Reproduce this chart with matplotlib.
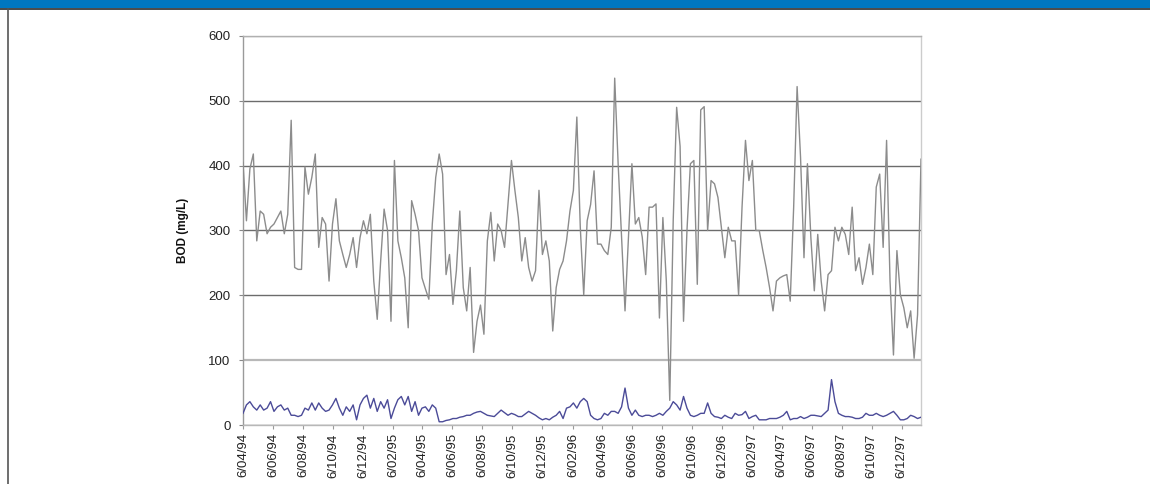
import matplotlib
matplotlib.use('Agg')
import matplotlib.pyplot as plt
import pandas as pd
from matplotlib.lines import Line2D
from matplotlib.patches import Rectangle

# ---------------- data (weekly samples) ----------------
start_date = '1994-04-06'

influent_bod = [
    405, 315, 395, 418, 284, 330, 325, 295, 305, 310,
    320, 330, 295, 325, 470, 243, 240, 240, 398, 356,
    382, 418, 274, 320, 310, 222, 310, 349, 284, 263,
    243, 263, 289, 243, 289, 315, 295, 325, 222, 163,
    253, 333, 300, 160, 408, 284, 258, 227, 150, 346,
    325, 300, 227, 210, 194, 310, 382, 418, 387, 232,
    263, 186, 238, 330, 212, 176, 243, 112, 160, 185,
    140, 284, 328, 253, 310, 300, 274, 341, 408, 362,
    320, 253, 289, 243, 222, 238, 362, 263, 284, 253,
    145, 212, 240, 253, 284, 330, 362, 475, 305, 201,
    315, 340, 392, 279, 279, 269, 263, 305, 535, 403,
    289, 176, 289, 403, 310, 320, 290, 232, 336, 336,
    341, 165, 320, 222, 38, 315, 490, 430, 160, 300,
    403, 408, 217, 486, 491, 300, 377, 372, 351, 305,
    258, 305, 284, 284, 201, 336, 439, 377, 408, 300,
    300, 270, 243, 212, 176, 222, 227, 230, 232, 191,
    336, 522, 413, 258, 403, 289, 207, 294, 222, 176,
    232, 238, 305, 284, 305, 294, 263, 336, 238, 258,
    217, 243, 279, 232, 367, 387, 274, 439, 222, 108,
    269, 201, 181, 150, 176, 103, 170, 410,
]

effluent_bod = [
    18, 31, 36, 28, 23, 31, 23, 26, 36, 21,
    28, 31, 23, 26, 15, 15, 13, 15, 26, 23,
    34, 23, 34, 26, 21, 23, 31, 41, 26, 15,
    28, 21, 31, 8, 31, 41, 46, 26, 41, 21,
    36, 26, 39, 10, 26, 39, 44, 31, 44, 21,
    36, 15, 26, 28, 21, 31, 26, 5, 5, 7,
    8, 10, 10, 12, 13, 15, 15, 18, 20, 21,
    18, 15, 14, 13, 18, 23, 19, 15, 18, 16,
    13, 13, 17, 21, 18, 15, 11, 8, 10, 8,
    12, 15, 21, 10, 26, 28, 34, 26, 36, 41,
    36, 15, 10, 8, 10, 18, 15, 21, 21, 18,
    28, 57, 26, 15, 23, 15, 13, 15, 15, 13,
    15, 18, 15, 21, 26, 36, 31, 23, 44, 26,
    15, 13, 15, 18, 18, 34, 18, 13, 12, 10,
    15, 12, 10, 18, 15, 16, 21, 10, 13, 15,
    8, 8, 8, 10, 10, 10, 12, 15, 21, 8,
    10, 10, 13, 10, 12, 15, 15, 14, 13, 18,
    23, 70, 36, 18, 15, 13, 13, 12, 10, 10,
    12, 18, 15, 15, 18, 15, 13, 15, 18, 21,
    15, 8, 8, 10, 15, 13, 10, 12,
]

tick_dates = [
    '1994-04-06', '1994-06-06', '1994-08-06', '1994-10-06', '1994-12-06',
    '1995-02-06', '1995-04-06', '1995-06-06', '1995-08-06', '1995-10-06', '1995-12-06',
    '1996-02-06', '1996-04-06', '1996-06-06', '1996-08-06', '1996-10-06', '1996-12-06',
    '1997-02-06', '1997-04-06', '1997-06-06', '1997-08-06', '1997-10-06', '1997-12-06',
]
tick_labels = [
    '6/04/94', '6/06/94', '6/08/94', '6/10/94', '6/12/94',
    '6/02/95', '6/04/95', '6/06/95', '6/08/95', '6/10/95', '6/12/95',
    '6/02/96', '6/04/96', '6/06/96', '6/08/96', '6/10/96', '6/12/96',
    '6/02/97', '6/04/97', '6/06/97', '6/08/97', '6/10/97', '6/12/97',
]
y_ticks = [0, 100, 200, 300, 400, 500, 600]
y_label = 'BOD (mg/L)'

# ---------------- figure ----------------
plt.rcParams['font.family'] = ['Liberation Sans', 'DejaVu Sans']
W, H = 1150, 484
fig = plt.figure(figsize=(W / 100, H / 100), dpi=100)
fig.patch.set_facecolor('white')

# header band and frame
fig.patches.append(Rectangle((0, 1 - 8 / H), 1, 8 / H, transform=fig.transFigure,
                             facecolor='#0077c0', edgecolor='none', zorder=0))
fig.lines.append(Line2D([0, 1], [1 - 8.7 / H, 1 - 8.7 / H], transform=fig.transFigure,
                        color='#3a3a3a', lw=1.3))
fig.lines.append(Line2D([7.5 / W, 7.5 / W], [0, 1 - 8.7 / H], transform=fig.transFigure,
                        color='#555555', lw=1.2))

L, R, T, B = 243, 921, 36, 425
ax = fig.add_axes([L / W, 1 - B / H, (R - L) / W, (B - T) / H])

dates = pd.date_range(start_date, periods=len(influent_bod), freq='7D')
ax.plot(dates, influent_bod, color='#8c8c8c', lw=1.0, zorder=3)
ax.plot(dates, effluent_bod, color='#4b4b98', lw=1.0, zorder=4)

ax.set_xlim(dates[0], dates[-1])
ax.set_ylim(0, 600)

ax.set_yticks(y_ticks)
ax.set_yticklabels([str(v) for v in y_ticks], fontsize=9.5, color='#222222')
ax.set_xticks(pd.to_datetime(tick_dates))
ax.set_xticklabels(tick_labels, rotation=90, fontsize=9.5, color='#222222')
ax.tick_params(axis='y', length=3, width=0.8, color='#888888', pad=6)
ax.tick_params(axis='x', length=3, width=0.8, color='#999999', pad=3)

ax.yaxis.grid(True, color='#6c6c6c', lw=1.0)
ax.set_axisbelow(True)
gl = ax.get_ygridlines()
gl[1].set_color('#b8b8b8')
gl[1].set_linewidth(1.6)
gl[6].set_color('#b0b0b0')

for side, col in [('left', '#9a9a9a'), ('bottom', '#b8b8b8'),
                  ('top', '#b0b0b0'), ('right', '#cccccc')]:
    ax.spines[side].set_color(col)
    ax.spines[side].set_linewidth(1.0)

fig.text(183 / W, 1 - ((T + B) / 2) / H, y_label, rotation=90, ha='center', va='center',
         fontsize=8.5, fontweight='bold', color='#111111')

fig.savefig('out.png', dpi=100)
